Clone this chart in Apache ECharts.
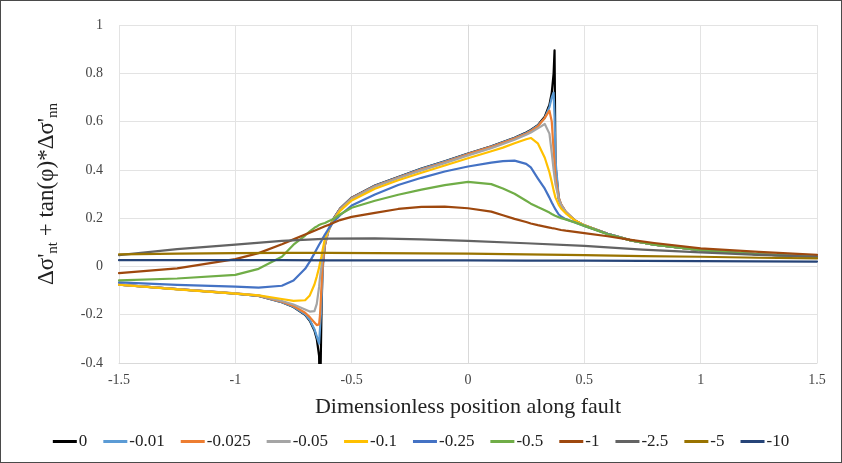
<!DOCTYPE html>
<html>
<head>
<meta charset="utf-8">
<script src="https://cdn.jsdelivr.net/npm/echarts@6/dist/echarts.min.js"></script>
<style>
html,body{margin:0;padding:0;background:#fff;}
#c{width:842px;height:463px;box-sizing:border-box;border:1px solid #4a4a4a;}
</style>
</head>
<body>
<div id="c"></div>
<script>
// Shared x positions for the near-fault series
const xs = [-1.5, -1.25, -1, -0.9, -0.8, -0.75, -0.7, -0.68, -0.66, -0.65, -0.64, -0.636, -0.63, -0.625, -0.615, -0.6, -0.58, -0.55, -0.5, -0.4, -0.3, -0.2, -0.1, 0, 0.1, 0.15, 0.2, 0.25, 0.27, 0.3, 0.33, 0.35, 0.36, 0.368, 0.372, 0.376, 0.39, 0.4, 0.42, 0.46, 0.5, 0.6, 0.7, 0.8, 1.0, 1.25, 1.5];

const s0 = [-0.075, -0.094, -0.113, -0.122, -0.148, -0.168, -0.2, -0.225, -0.265, -0.3, -0.37, -0.6, -0.2, 0.0, 0.09, 0.15, 0.195, 0.24, 0.285, 0.335, 0.37, 0.405, 0.435, 0.468, 0.498, 0.515, 0.533, 0.555, 0.565, 0.585, 0.62, 0.67, 0.72, 0.8, 0.895, 0.42, 0.28, 0.255, 0.225, 0.19, 0.17, 0.135, 0.108, 0.09, 0.067, 0.05, 0.04];
const s001 = [-0.075, -0.094, -0.113, -0.122, -0.148, -0.167, -0.198, -0.222, -0.26, -0.29, -0.32, -0.32, -0.16, -0.02, 0.088, 0.148, 0.194, 0.239, 0.284, 0.334, 0.369, 0.404, 0.434, 0.467, 0.497, 0.514, 0.532, 0.553, 0.563, 0.583, 0.615, 0.66, 0.7, 0.72, 0.62, 0.44, 0.285, 0.257, 0.226, 0.19, 0.17, 0.135, 0.108, 0.09, 0.067, 0.05, 0.04];
const s0025 = [-0.075, -0.094, -0.112, -0.121, -0.146, -0.164, -0.192, -0.21, -0.232, -0.243, -0.24, -0.2, -0.09, 0.0, 0.088, 0.146, 0.192, 0.237, 0.282, 0.332, 0.367, 0.401, 0.431, 0.465, 0.495, 0.512, 0.53, 0.55, 0.56, 0.58, 0.615, 0.645, 0.6, 0.48, 0.43, 0.37, 0.285, 0.258, 0.227, 0.19, 0.17, 0.135, 0.108, 0.09, 0.067, 0.05, 0.04];
const s005 = [-0.075, -0.094, -0.112, -0.12, -0.143, -0.158, -0.178, -0.187, -0.185, -0.155, -0.085, -0.045, 0.0, 0.04, 0.098, 0.145, 0.19, 0.235, 0.28, 0.33, 0.365, 0.398, 0.428, 0.46, 0.49, 0.507, 0.525, 0.545, 0.555, 0.572, 0.59, 0.55, 0.47, 0.4, 0.37, 0.34, 0.28, 0.255, 0.226, 0.19, 0.17, 0.135, 0.108, 0.09, 0.067, 0.05, 0.04];
const s01 = [-0.076, -0.095, -0.113, -0.12, -0.135, -0.143, -0.14, -0.12, -0.075, -0.042, -0.005, 0.015, 0.04, 0.068, 0.115, 0.15, 0.188, 0.23, 0.273, 0.322, 0.357, 0.388, 0.418, 0.448, 0.477, 0.492, 0.51, 0.527, 0.532, 0.51, 0.45, 0.39, 0.35, 0.315, 0.3, 0.285, 0.255, 0.24, 0.22, 0.19, 0.17, 0.135, 0.108, 0.09, 0.067, 0.05, 0.04];
const s025 = [-0.066, -0.076, -0.084, -0.088, -0.08, -0.058, -0.01, 0.02, 0.054, 0.072, 0.09, 0.097, 0.106, 0.115, 0.132, 0.155, 0.182, 0.212, 0.252, 0.298, 0.337, 0.367, 0.393, 0.414, 0.43, 0.436, 0.438, 0.425, 0.41, 0.365, 0.322, 0.285, 0.265, 0.25, 0.243, 0.236, 0.215, 0.207, 0.196, 0.182, 0.168, 0.135, 0.108, 0.09, 0.067, 0.05, 0.04];
const s05 = [-0.058, -0.05, -0.035, -0.01, 0.04, 0.09, 0.128, 0.145, 0.16, 0.165, 0.172, 0.174, 0.176, 0.178, 0.18, 0.187, 0.195, 0.215, 0.243, 0.272, 0.297, 0.318, 0.337, 0.35, 0.341, 0.323, 0.301, 0.272, 0.26, 0.246, 0.233, 0.223, 0.217, 0.213, 0.211, 0.209, 0.204, 0.2, 0.195, 0.182, 0.168, 0.133, 0.108, 0.09, 0.067, 0.05, 0.04];
const s1 = [-0.028, -0.008, 0.03, 0.055, 0.092, 0.112, 0.132, 0.14, 0.148, 0.152, 0.156, 0.158, 0.16, 0.162, 0.166, 0.172, 0.18, 0.192, 0.205, 0.222, 0.238, 0.247, 0.248, 0.241, 0.227, 0.212, 0.197, 0.184, 0.178, 0.171, 0.165, 0.161, 0.159, 0.158, 0.157, 0.156, 0.153, 0.151, 0.148, 0.143, 0.138, 0.125, 0.11, 0.097, 0.075, 0.06, 0.048];

// Coarser x positions for the far, flat series
const xsFar = [-1.5, -1.25, -1, -0.8, -0.6, -0.4, -0.2, 0, 0.25, 0.5, 0.75, 1, 1.25, 1.5];
const s25 = [0.047, 0.072, 0.09, 0.106, 0.115, 0.116, 0.112, 0.106, 0.096, 0.085, 0.07, 0.058, 0.048, 0.04];
const s5 = [0.05, 0.053, 0.055, 0.056, 0.056, 0.055, 0.054, 0.053, 0.05, 0.047, 0.043, 0.04, 0.036, 0.033];
const s10 = [0.026, 0.026, 0.026, 0.026, 0.025, 0.025, 0.025, 0.025, 0.024, 0.024, 0.023, 0.022, 0.021, 0.02];

const seriesNames = ['0', '-0.01', '-0.025', '-0.05', '-0.1', '-0.25', '-0.5', '-1', '-2.5', '-5', '-10'];
const seriesColors = ['#000000', '#5B9BD5', '#ED7D31', '#A5A5A5', '#FFC000', '#4472C4', '#70AD47', '#9E480E', '#636363', '#997300', '#264478'];
const seriesX = [xs, xs, xs, xs, xs, xs, xs, xs, xsFar, xsFar, xsFar];
const seriesY = [s0, s001, s0025, s005, s01, s025, s05, s1, s25, s5, s10];

const xTitle = 'Dimensionless position along fault';
const yTitle = "Δσ'{sub|nt} + tan(φ)*Δσ'{sub|nn}";

const chart = echarts.init(document.getElementById('c'), null, {renderer: 'canvas'});
const serif = 'Liberation Serif, Times New Roman, serif';

const series = seriesNames.map((n, i) => ({
  name: n,
  type: 'line',
  data: seriesX[i].map((x, j) => [x, seriesY[i][j]]),
  showSymbol: false,
  symbol: 'none',
  smooth: false,
  lineStyle: {color: seriesColors[i], width: 2.2, join: 'round', cap: 'round'},
  itemStyle: {color: seriesColors[i]},
  clip: true
}));

chart.setOption({
  animation: false,
  grid: {left: 118, right: 24, top: 24, bottom: 99},
  legend: {
    bottom: 7,
    left: 'center',
    icon: 'rect',
    itemWidth: 24,
    itemHeight: 3,
    itemGap: 16,
    textStyle: {fontFamily: serif, fontSize: 17, color: '#222', padding: [0, 0, 0, -3]},
    data: seriesNames
  },
  xAxis: {
    type: 'value',
    min: -1.5, max: 1.5, interval: 0.5,
    name: xTitle,
    nameLocation: 'middle',
    nameGap: 33,
    nameTextStyle: {fontFamily: serif, fontSize: 22, color: '#222'},
    axisLine: {show: true, onZero: false, lineStyle: {color: '#D9D9D9'}},
    axisTick: {show: false},
    axisLabel: {fontFamily: serif, fontSize: 14, color: '#444', margin: 10},
    splitLine: {show: true, lineStyle: {color: '#E3E3E3'}}
  },
  yAxis: {
    type: 'value',
    min: -0.4, max: 1, interval: 0.2,
    name: yTitle,
    nameLocation: 'middle',
    nameGap: 58,
    nameTextStyle: {
      fontFamily: serif, fontSize: 23, color: '#222', lineHeight: 28,
      rich: {sub: {fontFamily: serif, fontSize: 15, lineHeight: 15, verticalAlign: 'bottom', color: '#222'}}
    },
    axisLine: {show: true, lineStyle: {color: '#D9D9D9'}},
    axisTick: {show: false},
    axisLabel: {fontFamily: serif, fontSize: 14, color: '#444', margin: 16},
    splitLine: {show: true, lineStyle: {color: '#E3E3E3'}}
  },
  series: series
});
</script>
</body>
</html>
